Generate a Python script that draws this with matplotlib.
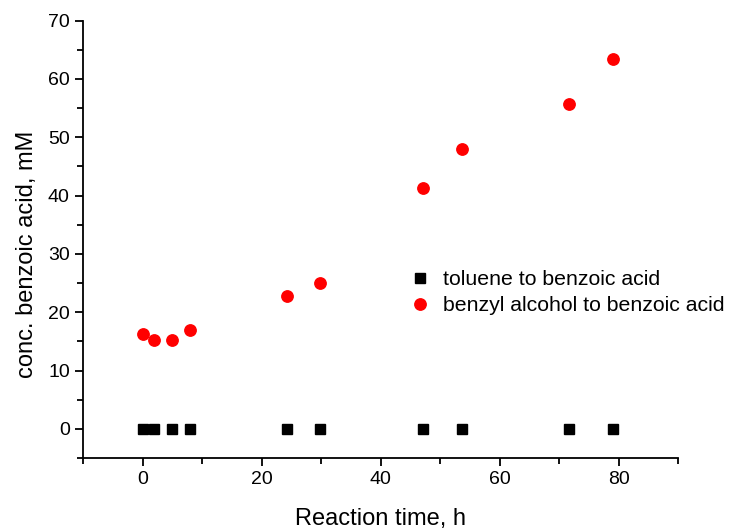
import numpy as np
import matplotlib.pyplot as plt
from matplotlib.ticker import FixedLocator

plt.rcParams['font.family'] = ['Liberation Sans', 'DejaVu Sans']

# reaction times (h) and benzoic acid concentrations (mM)
time_h = [0, 2, 5, 8, 24.2, 29.9, 47.1, 53.7, 71.6, 79.1]
toluene_conc = [0, 0, 0, 0, 0, 0, 0, 0, 0, 0]
benzyl_conc = [16.2, 15.2, 15.3, 16.9, 22.7, 25.1, 41.3, 48.0, 55.7, 63.5]

fig = plt.figure(figsize=(7.3, 5.3), dpi=100)
ax = fig.add_axes([0.1137, 0.1358, 0.929 - 0.1137, 0.961 - 0.1358])

ax.plot(time_h, toluene_conc, 's', color='black', markersize=7.8, linestyle='none',
        label='toluene to benzoic acid')
ax.plot(time_h, benzyl_conc, 'o', color='red', markersize=8.2, linestyle='none',
        label='benzyl alcohol to benzoic acid')

ax.set_xlim(-10, 90)
ax.set_ylim(-5, 70)
ax.xaxis.set_major_locator(FixedLocator([0, 20, 40, 60, 80]))
ax.xaxis.set_minor_locator(FixedLocator([-10, 10, 30, 50, 70, 90]))
ax.yaxis.set_major_locator(FixedLocator(np.arange(0, 71, 10)))
ax.yaxis.set_minor_locator(FixedLocator(np.arange(-5, 70, 10)))

for side in ('top', 'right'):
    ax.spines[side].set_visible(False)
for side in ('left', 'bottom'):
    ax.spines[side].set_linewidth(1.3)

ax.tick_params(which='major', direction='out', length=6, width=1.3, labelsize=14)
ax.tick_params(which='minor', direction='out', length=4, width=1.3)

ax.set_xlabel('Reaction time, h', fontsize=17, labelpad=14)
ax.set_ylabel('conc. benzoic acid, mM', fontsize=17)
ax.yaxis.set_label_coords(-0.076, 0.465)

ax.legend(loc='center left', bbox_to_anchor=(0.534, 0.378), frameon=False,
          fontsize=15.3, handlelength=1.0, handletextpad=0.6, labelspacing=0.33,
          borderaxespad=0)

plt.savefig('out.png', dpi=100)
plt.close()
